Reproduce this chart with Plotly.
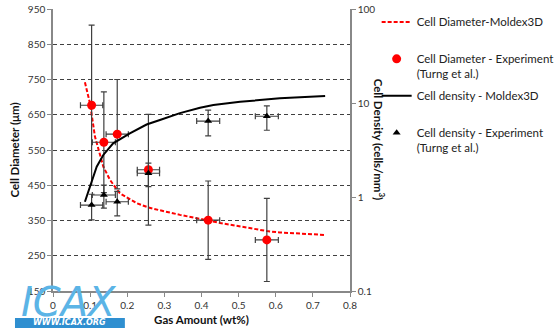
import plotly.graph_objects as go

# ---- data ----
gas_exp = [0.104, 0.137, 0.173, 0.257, 0.418, 0.576]
gas_err = [0.030, 0.031, 0.030, 0.030, 0.031, 0.031]
diam_exp = [677, 572, 595, 494, 351, 295]
diam_err = [227, 143, 155, 157, 111, 118]
dens_exp = [0.82, 1.05, 0.89, 1.79, 6.43, 7.23]
dens_err = [0.25, 0.29, 0.26, 0.50, 1.95, 2.10]

gas_sim_d = [0.086, 0.0997, 0.113, 0.127, 0.1355, 0.1536, 0.180, 0.2255, 0.257, 0.284,
             0.342, 0.418, 0.45, 0.522, 0.576, 0.611, 0.70, 0.733]
diam_sim = [742, 682, 588, 531, 503, 465, 427, 399, 387, 380,
            366, 350, 343, 330, 320, 316, 311, 309]

gas_sim_n = [0.086, 0.0997, 0.1177, 0.1355, 0.162, 0.207, 0.252, 0.288, 0.342,
             0.396, 0.432, 0.504, 0.611, 0.733]
dens_sim = [0.89, 1.29, 2.10, 2.80, 3.72, 4.76, 5.9, 6.6, 7.8,
            8.9, 9.5, 10.3, 11.2, 11.9]

x_ticks = [0, 0.1, 0.2, 0.3, 0.4, 0.5, 0.6, 0.7, 0.8]
y_ticks = [150, 250, 350, 450, 550, 650, 750, 850, 950]
y2_ticks = [0.1, 1, 10, 100]
grid_vals = [250, 350, 450, 550, 650, 750, 850]

FONT = "Lato"
ERRC = "#404040"

fig = go.Figure()
fig.add_trace(go.Scatter(
    x=gas_sim_d, y=diam_sim, mode="lines", name="Cell Diameter-Moldex3D<br>&nbsp;",
    line=dict(color="#ff0000", width=2, dash="4px,2px"), legendgroup="a"))
fig.add_trace(go.Scatter(
    x=gas_exp, y=diam_exp, mode="markers",
    name="Cell Diameter - Experiment<br>(Turng et al.)",
    marker=dict(color="#ff0000", size=9, symbol="circle"),
    error_y=dict(type="data", array=diam_err, color=ERRC, thickness=1.2, width=3),
    error_x=dict(type="data", array=gas_err, color=ERRC, thickness=1.2, width=3),
    legendgroup="b"))
fig.add_trace(go.Scatter(
    x=gas_sim_n, y=dens_sim, mode="lines", name="Cell density - Moldex3D<br>&nbsp;",
    line=dict(color="black", width=2), yaxis="y2", legendgroup="c"))
fig.add_trace(go.Scatter(
    x=gas_exp, y=dens_exp, mode="markers",
    name="Cell density - Experiment<br>(Turng et al.)",
    marker=dict(color="black", size=7, symbol="triangle-up"),
    error_y=dict(type="data", array=dens_err, color=ERRC, thickness=1.2, width=3),
    error_x=dict(type="data", array=gas_err, color=ERRC, thickness=1.2, width=3),
    yaxis="y2", legendgroup="d"))

fig.update_layout(
    width=558, height=333,
    margin=dict(l=53, r=208, t=9, b=42, autoexpand=False),
    paper_bgcolor="white", plot_bgcolor="white",
    font=dict(family=FONT, size=10, color="#333333"),
    showlegend=True,
    legend=dict(xref="container", yref="container", x=0.675, y=0.976,
                xanchor="left", yanchor="top",
                font=dict(family=FONT, size=11.5, color="#222222"),
                valign="top", tracegroupgap=4, bgcolor="rgba(0,0,0,0)"),
    xaxis=dict(range=[0, 0.8], tickvals=x_ticks, ticktext=[f"{v:g}" for v in x_ticks],
               showgrid=False, zeroline=False, showline=True, linecolor="#888888",
               linewidth=1.5, ticks="outside", ticklen=4, tickcolor="#888888",
               title=dict(text="<b>Gas Amount (wt%)</b>", font=dict(size=11.5, color="#111111"),
                          standoff=6)),
    yaxis=dict(range=[150, 950], tickvals=y_ticks, showgrid=False, zeroline=False,
               showline=True, linecolor="#888888", linewidth=1.5,
               ticks="outside", ticklen=4, tickcolor="#888888",
               minor=dict(tickvals=grid_vals, showgrid=True, gridcolor="#404040",
                          griddash="4px,3px", gridwidth=1, ticks=""),
               title=dict(text="<b>Cell Diameter (μm)</b>", font=dict(size=11.5, color="#111111"),
                          standoff=6)),
    yaxis2=dict(type="log", range=[-1, 2], tickvals=y2_ticks,
                ticktext=[f"{v:g}" for v in y2_ticks],
                overlaying="y", side="right", showgrid=False, zeroline=False,
                showline=True, linecolor="#888888", linewidth=1.5,
                ticks="outside", ticklen=4, tickcolor="#888888"),
)

fig.add_annotation(text="<b>Cell Density (cells/mm<sup>3</sup>)</b>", textangle=90,
                   xref="paper", yref="paper", x=1.099, y=0.535, showarrow=False,
                   xanchor="center", yanchor="middle",
                   font=dict(family=FONT, size=11.5, color="#111111"))

# approximate logo
fig.add_annotation(text="<i>ICAX</i>", xref="paper", yref="paper",
                   x=0.055, y=-0.04, showarrow=False, xanchor="center", yanchor="middle",
                   font=dict(family="DejaVu Sans", size=40, color="#5bb4e6"))
fig.add_shape(type="rect", xref="paper", yref="paper", x0=-0.128, x1=0.242, y0=-0.131, y1=-0.096,
              fillcolor="#2f8fd0", line=dict(width=0), layer="below")
fig.add_annotation(text="<b><i>WWW.ICAX.ORG</i></b>", xref="paper", yref="paper",
                   x=0.057, y=-0.113, showarrow=False, xanchor="center", yanchor="middle",
                   font=dict(family="DejaVu Sans", size=8, color="white"))

fig.write_html("out.html")
